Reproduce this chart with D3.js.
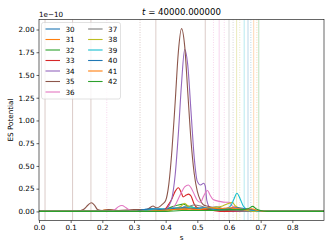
<!DOCTYPE html>
<html>
<head>
<meta charset="utf-8">
<script src="https://cdn.jsdelivr.net/npm/d3@7"></script>
<style>
  body { margin: 0; background: #fff; }
  svg text { font-family: "DejaVu Sans", sans-serif; fill: #000; }
</style>
</head>
<body>
<div id="chart"></div>
<script>
// series names, in legend order
var names = ["30", "31", "32", "33", "34", "35", "36", "37", "38", "39", "40", "41", "42"];

// ES potential profiles, units of 1e-10, as [s, value]
var s30 = [[0.28, 0], [0.3, 0.01], [0.33, 0.02], [0.35, 0.03], [0.37, 0.02], [0.4, 0.03], [0.42, 0.04], [0.44, 0.02], [0.46, 0.05], [0.48, 0.03], [0.5, 0.02], [0.52, 0.04], [0.54, 0.02], [0.57, 0.03], [0.6, 0.02], [0.63, 0.01], [0.66, 0.01], [0.7, 0]];
var s31 = [[0.18, 0], [0.2, 0.01], [0.22, 0.02], [0.24, 0.01], [0.3, 0.01], [0.35, 0.02], [0.4, 0.02], [0.43, 0.03], [0.46, 0.02], [0.49, 0.04], [0.52, 0.02], [0.55, 0.03], [0.58, 0.02], [0.6, 0.03], [0.62, 0.05], [0.64, 0.02], [0.67, 0.02], [0.7, 0]];
var s32 = [[0.38, 0], [0.4, 0.02], [0.42, 0.05], [0.44, 0.07], [0.455, 0.08], [0.47, 0.06], [0.49, 0.04], [0.51, 0.03], [0.54, 0.02], [0.58, 0.01], [0.62, 0.01], [0.65, 0]];
var s33 = [[0.39, 0], [0.4, 0.03], [0.41, 0.08], [0.42, 0.14], [0.43, 0.22], [0.44, 0.26], [0.45, 0.2], [0.455, 0.16], [0.465, 0.18], [0.472, 0.19], [0.48, 0.17], [0.49, 0.08], [0.5, 0.04], [0.52, 0.02], [0.55, 0.01], [0.58, 0]];
var s34 = [[0.17, 0], [0.19, 0.01], [0.22, 0.01], [0.3, 0.01], [0.38, 0.01], [0.4, 0.02], [0.41, 0.06], [0.42, 0.15], [0.43, 0.4], [0.44, 0.85], [0.45, 1.4], [0.46, 1.78], [0.47, 1.6], [0.48, 1.1], [0.49, 0.6], [0.5, 0.33], [0.51, 0.29], [0.52, 0.31], [0.525, 0.28], [0.53, 0.12], [0.54, 0.04], [0.56, 0.02], [0.6, 0.01], [0.65, 0]];
var s35 = [[0.12, 0], [0.14, 0.02], [0.155, 0.07], [0.165, 0.095], [0.175, 0.07], [0.185, 0.02], [0.2, 0.01], [0.22, 0.02], [0.25, 0.01], [0.3, 0.02], [0.34, 0.02], [0.36, 0.06], [0.37, 0.04], [0.38, 0.05], [0.39, 0.08], [0.4, 0.12], [0.41, 0.3], [0.42, 0.68], [0.43, 1.2], [0.44, 1.75], [0.45, 2.01], [0.46, 1.82], [0.47, 1.3], [0.48, 0.78], [0.49, 0.42], [0.5, 0.22], [0.51, 0.12], [0.52, 0.07], [0.53, 0.06], [0.55, 0.04], [0.58, 0.02], [0.62, 0.01], [0.7, 0]];
var s36 = [[0.22, 0], [0.24, 0.02], [0.25, 0.05], [0.262, 0.065], [0.275, 0.04], [0.29, 0.01], [0.33, 0.01], [0.41, 0.02], [0.43, 0.07], [0.44, 0.14], [0.45, 0.21], [0.46, 0.27], [0.472, 0.29], [0.48, 0.26], [0.49, 0.19], [0.5, 0.12], [0.51, 0.1], [0.52, 0.17], [0.532, 0.23], [0.54, 0.18], [0.55, 0.13], [0.57, 0.11], [0.59, 0.1], [0.6, 0.1], [0.61, 0.06], [0.63, 0.03], [0.66, 0.01], [0.7, 0]];
var s37 = [[0.36, 0], [0.4, 0.02], [0.44, 0.03], [0.47, 0.05], [0.49, 0.07], [0.51, 0.06], [0.53, 0.04], [0.56, 0.05], [0.58, 0.03], [0.6, 0.02], [0.63, 0.01], [0.66, 0]];
var s38 = [[0.4, 0], [0.43, 0.03], [0.45, 0.06], [0.46, 0.09], [0.47, 0.06], [0.49, 0.04], [0.52, 0.03], [0.55, 0.04], [0.58, 0.06], [0.6, 0.09], [0.61, 0.1], [0.62, 0.06], [0.64, 0.03], [0.66, 0.01], [0.68, 0]];
var s39 = [[0.32, 0], [0.35, 0.02], [0.38, 0.03], [0.4, 0.02], [0.43, 0.04], [0.46, 0.03], [0.48, 0.05], [0.5, 0.03], [0.53, 0.04], [0.56, 0.02], [0.59, 0.03], [0.605, 0.06], [0.615, 0.13], [0.625, 0.2], [0.635, 0.14], [0.645, 0.06], [0.66, 0.02], [0.68, 0.01], [0.7, 0]];
var s40 = [[0.3, 0], [0.33, 0.02], [0.36, 0.03], [0.39, 0.02], [0.42, 0.03], [0.45, 0.04], [0.48, 0.03], [0.51, 0.04], [0.54, 0.03], [0.57, 0.02], [0.6, 0.03], [0.63, 0.04], [0.65, 0.03], [0.67, 0.02], [0.69, 0.01], [0.71, 0]];
var s41 = [[0.34, 0], [0.38, 0.01], [0.42, 0.02], [0.46, 0.03], [0.5, 0.02], [0.54, 0.04], [0.57, 0.03], [0.6, 0.04], [0.62, 0.03], [0.65, 0.02], [0.67, 0.03], [0.69, 0.01], [0.72, 0]];
var s42 = [[0.4, 0], [0.45, 0.01], [0.5, 0.01], [0.55, 0.01], [0.6, 0.02], [0.64, 0.02], [0.66, 0.03], [0.675, 0.055], [0.685, 0.03], [0.7, 0.01], [0.72, 0]];
var profiles = [s30, s31, s32, s33, s34, s35, s36, s37, s38, s39, s40, s41, s42];

// vertical marker lines: position, series index (colour), dotted or not
var markS      = [0.019, 0.106, 0.164, 0.214, 0.319, 0.369, 0.525, 0.551, 0.569, 0.585, 0.600, 0.613, 0.624, 0.634, 0.648, 0.660, 0.669, 0.678, 0.688, 0.694];
var markSeries = [5, 5, 5, 6, 5, 5, 5, 6, 6, 6, 7, 7, 8, 8, 9, 10, 10, 11, 11, 12];
var markDotted = [0, 0, 0, 1, 1, 0, 0, 1, 0, 1, 0, 1, 0, 1, 0, 0, 1, 0, 1, 0];

var xTicks = [0, 0.1, 0.2, 0.3, 0.4, 0.5, 0.6, 0.7, 0.8];
var yTicks = [0, 0.25, 0.5, 0.75, 1.0, 1.25, 1.5, 1.75, 2.0];

var colors = ["#1f77b4", "#ff7f0e", "#2ca02c", "#d62728", "#9467bd", "#8c564b",
              "#e377c2", "#7f7f7f", "#bcbd22", "#17becf"];

var W = 332, H = 249;
var m = { left: 39, right: 8, top: 19.5, bottom: 28.5 };

var svg = d3.select("#chart").append("svg")
    .attr("width", W).attr("height", H);

var x = d3.scaleLinear().domain([0, 0.9]).range([m.left, W - m.right]);
var y = d3.scaleLinear().domain([-0.1, 2.11]).range([H - m.bottom, m.top]);

function colorOf(i) { return colors[i % colors.length]; }

// clip plot area
svg.append("clipPath").attr("id", "clip")
    .append("rect")
    .attr("x", x(0)).attr("y", y(2.11))
    .attr("width", x(0.9) - x(0)).attr("height", y(-0.1) - y(2.11));

var plot = svg.append("g").attr("clip-path", "url(#clip)");

// marker lines
plot.selectAll("line.mark")
    .data(markS)
    .enter().append("line")
    .attr("class", "mark")
    .attr("x1", function(d) { return x(d); })
    .attr("x2", function(d) { return x(d); })
    .attr("y1", y(2.11)).attr("y2", y(-0.1))
    .attr("stroke", function(d, i) { return colorOf(markSeries[i]); })
    .attr("stroke-opacity", 0.3)
    .attr("stroke-width", 1)
    .attr("stroke-dasharray", function(d, i) { return markDotted[i] ? "1,1.5" : null; });

var line = d3.line()
    .x(function(d) { return x(d[0]); })
    .y(function(d) { return y(d[1]); })
    .curve(d3.curveMonotoneX);

// pad each profile to the full s range
plot.selectAll("path.series")
    .data(profiles)
    .enter().append("path")
    .attr("class", "series")
    .attr("d", function(d) { return line([[0, 0]].concat(d, [[0.9, 0]])); })
    .attr("fill", "none")
    .attr("stroke", function(d, i) { return colorOf(i); })
    .attr("stroke-width", 1.1)
    .attr("stroke-linejoin", "round");

// axes
var xAxis = svg.append("g")
    .attr("transform", "translate(0," + (H - m.bottom) + ")")
    .call(d3.axisBottom(x).tickValues(xTicks).tickFormat(d3.format(".1f")).tickSize(2.5).tickPadding(2));
var yAxis = svg.append("g")
    .attr("transform", "translate(" + m.left + ",0)")
    .call(d3.axisLeft(y).tickValues(yTicks).tickFormat(d3.format(".2f")).tickSize(2.5).tickPadding(2));

[xAxis, yAxis].forEach(function(g) {
    g.select(".domain").remove();
    g.selectAll("text").style("font-size", "7.2px").style("font-family", "DejaVu Sans");
    g.selectAll("line").attr("stroke", "#000").attr("stroke-width", 0.6);
});

// spines
svg.append("rect")
    .attr("x", x(0)).attr("y", y(2.11))
    .attr("width", x(0.9) - x(0)).attr("height", y(-0.1) - y(2.11))
    .attr("fill", "none").attr("stroke", "#000").attr("stroke-width", 0.6);

// labels
svg.append("text")
    .attr("x", (x(0) + x(0.9)) / 2).attr("y", 240)
    .attr("text-anchor", "middle").style("font-size", "7.2px")
    .text("s");

svg.append("text")
    .attr("transform", "translate(13," + ((y(2.11) + y(-0.1)) / 2) + ") rotate(-90)")
    .attr("text-anchor", "middle").style("font-size", "7.2px")
    .text("ES Potential");

svg.append("text")
    .attr("x", m.left).attr("y", 17)
    .style("font-size", "7.2px")
    .text("1e\u221210");

var title = svg.append("text")
    .attr("x", (x(0) + x(0.9)) / 2).attr("y", 15)
    .attr("text-anchor", "middle").style("font-size", "8.6px");
title.append("tspan").style("font-style", "italic").text("t");
title.append("tspan").text(" = 40000.000000");

// legend, two columns, upper left
var legend = svg.append("g").attr("transform", "translate(41.5,22.5)");
legend.append("rect")
    .attr("width", 79).attr("height", 76.5).attr("rx", 2)
    .attr("fill", "#fff").attr("fill-opacity", 0.8)
    .attr("stroke", "#ccc").attr("stroke-width", 0.6);

var rowsPerCol = 7;
var items = legend.selectAll("g.item")
    .data(names)
    .enter().append("g")
    .attr("class", "item")
    .attr("transform", function(d, i) {
        var col = Math.floor(i / rowsPerCol), row = i % rowsPerCol;
        return "translate(" + (4 + col * 42.6) + "," + (6.5 + row * 10.5) + ")";
    });
items.append("line")
    .attr("x1", 0).attr("x2", 14.5)
    .attr("stroke", function(d, i) { return colorOf(i); })
    .attr("stroke-width", 1.1);
items.append("text")
    .attr("x", 20).attr("dy", "0.35em")
    .style("font-size", "7.2px")
    .text(function(d) { return d; });
</script>
</body>
</html>
